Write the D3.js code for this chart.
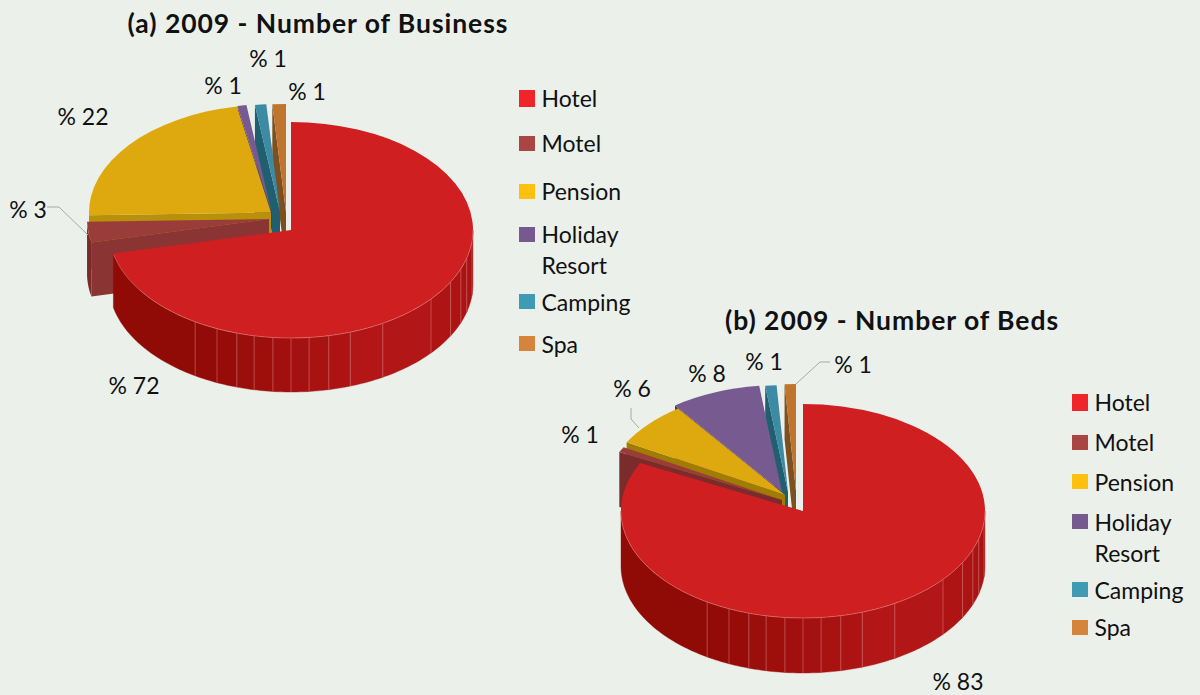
<!DOCTYPE html>
<html>
<head>
<meta charset="utf-8">
<title>2009 pies</title>
<script src="https://cdn.jsdelivr.net/npm/d3@7"></script>
<style>
  html, body { margin: 0; padding: 0; background: #ebf0eb; }
  svg { display: block; }
  text { font-family: Lato, "Open Sans", sans-serif; fill: #111; }
</style>
</head>
<body>
<script>
// categories and values
var categories = ["Hotel", "Motel", "Pension", "Holiday Resort", "Camping", "Spa"];
// slice shares as drawn, printed percents are kept apart since the drawn sizes differ a bit from them
var sharesBusiness = [71.5, 3.1, 22.4, 0.8, 1.0, 1.2];
var sharesBeds = [82.4, 0.8, 6.8, 8, 1, 1];
var percentsBusiness = [72, 3, 22, 1, 1, 1];
var percentsBeds = [83, 1, 6, 8, 1, 1];

// colours
var legendColors = ["#f0252a", "#a94644", "#fdc00d", "#76598f", "#3f9ab3", "#d6843c"];
var topColors = ["#d01f21", "#9a3c3a", "#dda90f", "#765a90", "#3c8aa3", "#c0752f"];
var facesBusiness = ["#8f0905", "#8a3533", "#b8900a", "#4b3766", "#1f5f70", "#7c5020"];
var facesBeds = ["#8f0905", "#7a2b2b", "#a07c00", "#4b3766", "#1f5f70", "#7c5020"];
var wallColors = ["#8f0905", "#7a2a28", "#8a6c08", "#3d2d55", "#184b59", "#5e3d18"];

// seams on the side of the big slice, degrees clockwise from 12 o'clock
var seamAngles = [96, 105, 111, 118.7, 129.7, 149.7, 161, 168, 174.3, 180, 185.7, 191.7, 197.3, 204, 211.8];

var width = 1200, height = 695;
var rad = Math.PI / 180;

var svg = d3.select("body").append("svg")
  .attr("width", width)
  .attr("height", height);

var pie = d3.pie().sort(null);
var arc = d3.arc().innerRadius(0);
var line = d3.line();
var shade = d3.scaleLinear()
  .domain([100, 150, 212])
  .range(["#a81212", "#b51717", "#900a06"])
  .clamp(true);

// one pie: r is the radius, ky the squash, depth the height of the side
function drawPie(cfg) {
  var g = svg.append("g");
  var slices = pie(cfg.shares);

  function pt(i, a, r, z) {
    return [
      cfg.centers[i][0] + r * Math.sin(a),
      cfg.centers[i][1] - r * cfg.ky * Math.cos(a) + z
    ];
  }

  // outer side between two angles
  function wallPath(i, a0, a1) {
    var n = Math.max(2, Math.ceil((a1 - a0) / (1 * rad)));
    var angles = d3.range(n + 1).map(function(k) { return a0 + (a1 - a0) * k / n; });
    var upper = angles.map(function(a) { return pt(i, a, cfg.r, 0); });
    var lower = angles.slice().reverse().map(function(a) { return pt(i, a, cfg.r, cfg.depth); });
    return line(upper.concat(lower)) + "Z";
  }

  // back to front, the last slice first
  d3.range(slices.length - 1, -1, -1).forEach(function(i) {
    var s = slices[i];
    var c = cfg.centers[i];
    var a0 = Math.max(s.startAngle, 90 * rad);
    var a1 = Math.min(s.endAngle, 270 * rad);

    if (s.startAngle > 180 * rad) {
      // cut face on the start side
      var faceTop = pt(i, s.startAngle, cfg.r, 0);
      var faceBottom = pt(i, s.startAngle, cfg.r, cfg.depth);
      var p = [c, faceTop, faceBottom, [c[0], c[1] + cfg.depth]];
      g.append("path").attr("d", line(p) + "Z").attr("fill", cfg.faces[i]);
    }

    if (a1 > a0) {
      if (i === 0) {
        // big slice, its side is cut in panels
        var cuts = seamAngles.map(function(d) { return d * rad; })
          .filter(function(a) { return a > a0 && a < a1; });
        var edges = [a0].concat(cuts, [a1]);
        d3.pairs(edges).forEach(function(e) {
          g.append("path")
            .attr("d", wallPath(i, e[0], e[1]))
            .attr("fill", shade((e[0] + e[1]) / 2 / rad))
            .attr("stroke", shade((e[0] + e[1]) / 2 / rad))
            .attr("stroke-width", 0.4);
        });
        cuts.forEach(function(a) {
          var p0 = pt(i, a, cfg.r, 0), p1 = pt(i, a, cfg.r, cfg.depth);
          g.append("line")
            .attr("x1", p0[0]).attr("y1", p0[1])
            .attr("x2", p1[0]).attr("y2", p1[1])
            .attr("stroke", "#e08a8a")
            .attr("stroke-opacity", 0.6)
            .attr("stroke-width", 0.8);
        });
      } else {
        g.append("path").attr("d", wallPath(i, a0, a1)).attr("fill", wallColors[i]);
      }
    }

    g.append("path")
      .attr("transform", "translate(" + c[0] + "," + c[1] + ") scale(1," + cfg.ky + ")")
      .attr("d", arc({ outerRadius: cfg.r, startAngle: s.startAngle, endAngle: s.endAngle }))
      .attr("fill", topColors[i]);

    if (i === 0) {
      // thin light rim on the front edge
      var rim = d3.range(a0, a1, 1 * rad).map(function(a) { return pt(i, a, cfg.r, 0); });
      g.append("path")
        .attr("d", line(rim))
        .attr("fill", "none")
        .attr("stroke", "#e58080")
        .attr("stroke-opacity", 0.7)
        .attr("stroke-width", 0.8);
    }
  });

  // leader lines
  cfg.leaders.forEach(function(l) {
    g.append("path")
      .attr("d", line(l))
      .attr("fill", "none")
      .attr("stroke", "#a6aaa6")
      .attr("stroke-width", 1);
  });

  // percent labels
  g.selectAll("text.pct")
    .data(cfg.percents)
    .enter()
    .append("text")
    .attr("class", "pct")
    .attr("x", function(d, i) { return cfg.labels[i][0]; })
    .attr("y", function(d, i) { return cfg.labels[i][1]; })
    .attr("text-anchor", "middle")
    .style("font-size", "23px")
    .text(function(d) { return "% " + d; });

  // title
  g.append("text")
    .attr("x", cfg.title[0])
    .attr("y", cfg.title[1])
    .attr("text-anchor", "middle")
    .style("font-size", "26.5px")
    .style("font-weight", "700")
    .style("letter-spacing", "0.95px")
    .text(cfg.title[2]);

  // legend
  categories.forEach(function(name, i) {
    var row = cfg.legendRows[i];
    g.append("rect")
      .attr("x", cfg.legendX)
      .attr("y", row[0])
      .attr("width", 16)
      .attr("height", i === 0 ? 17 : 15)
      .attr("fill", legendColors[i]);
    var words = name === "Holiday Resort" ? name.split(" ") : [name];
    words.forEach(function(w, k) {
      g.append("text")
        .attr("x", cfg.legendX + 22.5)
        .attr("y", row[1] + k * 30.5)
        .style("font-size", "23px")
        .text(w);
    });
  });
}

drawPie({
  shares: sharesBusiness,
  percents: percentsBusiness,
  faces: facesBusiness,
  r: 182, ky: 108 / 182, depth: 54,
  centers: [[291, 230], [269, 219], [271, 212.5], [271.5, 212], [280, 212], [286, 212]],
  labels: [[134, 394], [28, 218], [83, 125], [223, 94], [268, 67], [307, 100]],
  leaders: [[[47, 207], [59, 207], [88, 235]]],
  title: [318, 33, "(a) 2009 - Number of Business"],
  legendX: 519,
  legendRows: [[90, 107], [136, 152], [184, 200], [227, 243], [294, 311], [336, 353]]
});

drawPie({
  shares: sharesBeds,
  percents: percentsBeds,
  faces: facesBeds,
  r: 182, ky: 107 / 182, depth: 55,
  centers: [[803, 511], [782, 500], [785, 495], [782, 492], [788, 492], [796, 491]],
  labels: [[958, 690], [580, 443], [632, 397], [707, 382], [764, 370], [853, 373]],
  leaders: [[[631, 408], [631, 419], [639, 428]], [[830, 362], [820, 362], [796, 384]]],
  title: [892, 330, "(b) 2009 - Number of Beds"],
  legendX: 1072,
  legendRows: [[394, 411], [435, 451], [474, 491], [514, 531], [582, 599], [620, 636]]
});
</script>
</body>
</html>
